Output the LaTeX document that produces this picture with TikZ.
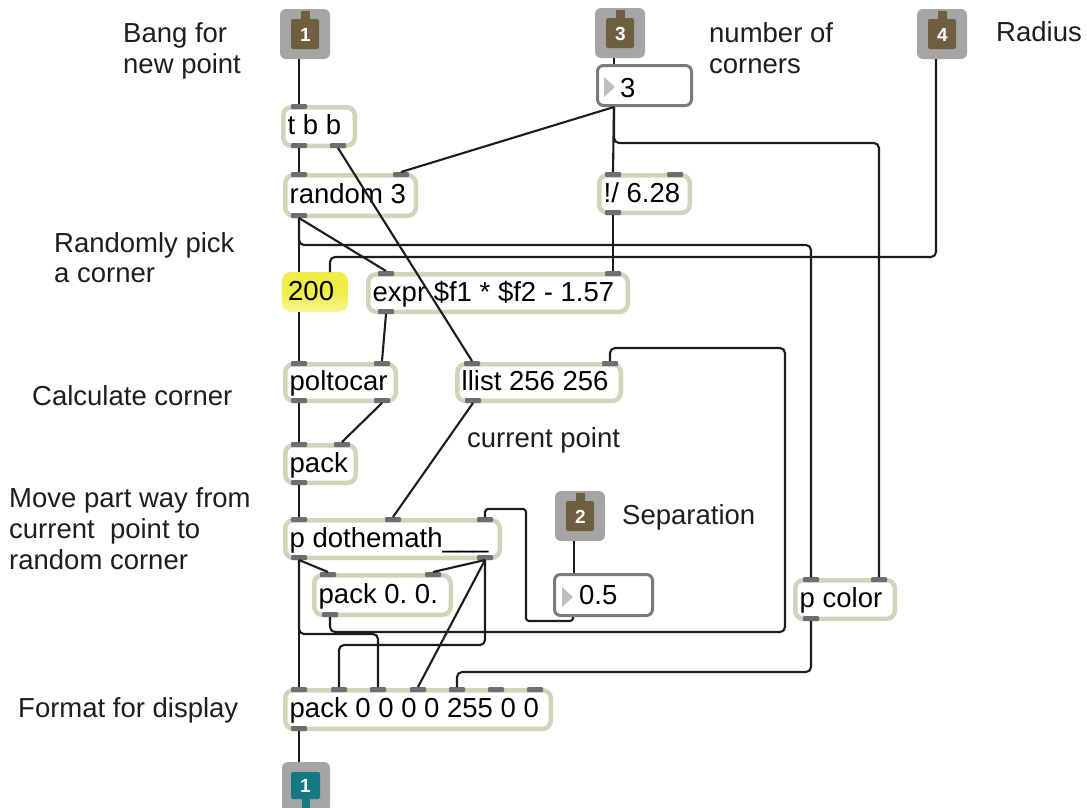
\documentclass[tikz,border=0pt]{standalone}
\usepackage{fontspec}
\setmainfont{Liberation Sans}
\frenchspacing

\definecolor{sage}{RGB}{205,214,186}
\definecolor{porttab}{RGB}{110,110,110}
\definecolor{numedge}{RGB}{122,122,122}
\definecolor{trigray}{RGB}{190,190,190}
\definecolor{inletgray}{RGB}{165,165,165}
\definecolor{inletbrown}{RGB}{112,94,64}
\definecolor{outletteal}{RGB}{22,120,128}
\definecolor{hiyellow}{RGB}{238,238,70}
\definecolor{hiyellowlight}{RGB}{246,246,150}
\definecolor{wirecol}{RGB}{28,28,28}
\definecolor{labelcol}{RGB}{30,30,30}

\tikzset{
  patchfont/.style={font=\fontsize{27.5}{31}\selectfont},
  objframe/.style={draw=sage, line width=4.5pt, rounded corners=8pt, fill=white,
    inner sep=0pt, outer sep=0pt, anchor=north west},
  numframe/.style={draw=numedge, line width=3pt, rounded corners=6pt, fill=white,
    inner sep=0pt, outer sep=0pt, anchor=north west},
  porttab/.style={fill=porttab, minimum width=16pt, minimum height=5pt,
    inner sep=0pt, outer sep=0pt, rounded corners=1pt},
  boxtext/.style={patchfont, anchor=base west, inner sep=0pt, text=black},
  comment/.style={patchfont, anchor=base west, inner sep=0pt, text=labelcol},
  iofont/.style={font=\fontsize{19}{19}\selectfont\bfseries, text=white, inner sep=0pt},
  wire/.style={draw=wirecol, line width=2.1pt, rounded corners=5pt},
}

% object box: name, left, top, right, bottom, text
\newcommand\objbox[6]{%
  \pgfmathsetmacro\bw{#4-#2-4.5}\pgfmathsetmacro\bh{#5-#3-4.5}%
  \node[objframe, minimum width=\bw pt, minimum height=\bh pt] (#1) at ({#2+2.25},{#3+2.25}) {};
  \node[boxtext] (#1-t) at ({#2+6.5},{(#3+#5)/2+8}) {#6};}
% inlet / outlet tabs on a box edge
\newcommand\tabin[3]{\node[porttab] (#1) at (#2,{#3+1.5}) {};}
\newcommand\tabout[3]{\node[porttab] (#1) at (#2,{#3-2.5}) {};}
% patcher inlet: name, left, top, number, colour
\newcommand\patchinlet[5]{%
  \node[fill=inletgray, rounded corners=6pt, minimum width=50pt, minimum height=50pt,
    inner sep=0pt, outer sep=0pt, anchor=north west] (#1) at (#2,#3) {};
  \fill[#5, rounded corners=2pt] ({#2+11},{#3+10}) rectangle ({#2+39},{#3+40});
  \fill[#5] ({#2+21},{#3+1.5}) rectangle ({#2+30},{#3+12});
  \node[iofont] (#1-n) at ({#2+25.5},{#3+26}) {#4};
  \coordinate (#1-o) at ({#2+19},{#3+50});}
% patcher outlet: name, left, top, number, colour
\newcommand\patchoutlet[5]{%
  \node[fill=inletgray, rounded corners=6pt, minimum width=48pt, minimum height=50pt,
    inner sep=0pt, outer sep=0pt, anchor=north west] (#1) at (#2,#3) {};
  \fill[#5, rounded corners=2pt] ({#2+9},{#3+10}) rectangle ({#2+38},{#3+37});
  \fill[#5] ({#2+20},{#3+30}) rectangle ({#2+28},{#3+48.5});
  \node[iofont] (#1-n) at ({#2+23.5},{#3+23.5}) {#4};
  \coordinate (#1-i) at ({#2+17},{#3});}

\begin{document}
\begin{tikzpicture}[x=1pt,y=-1pt]
\useasboundingbox (0,0) rectangle (1087,807);
\fill[white] (0,0) rectangle (1087,807);
\clip (0,0) rectangle (1087,807);

% ---- comments ----
\node[comment] (c-bang1) at (123,42) {Bang for};
\node[comment] (c-bang2) at (123,73) {new point};
\node[comment] (c-num1) at (709,42) {number of};
\node[comment] (c-num2) at (709,73) {corners};
\node[comment] (c-rad) at (996,41) {Radius};
\node[comment] (c-rnd1) at (54,252) {Randomly pick};
\node[comment] (c-rnd2) at (54,282) {a corner};
\node[comment] (c-calc) at (32,405) {Calculate corner};
\node[comment] (c-move1) at (9,507) {Move part way from};
\node[comment] (c-move2) at (9,538) {current~~point to};
\node[comment] (c-move3) at (9,569) {random corner};
\node[comment] (c-fmt) at (18,717) {Format for display};
\node[comment] (c-cur) at (467,447) {current point};
\node[comment] (c-sep) at (622,524) {Separation};

% ---- inlets and outlet ----
\patchinlet{in1}{280}{9}{1}{inletbrown}
\patchinlet{in3}{595}{8}{3}{inletbrown}
\patchinlet{in4}{917}{9}{4}{inletbrown}
\patchinlet{in2}{555}{491}{2}{inletbrown}
\patchoutlet{out1}{282}{762}{1}{outletteal}

% ---- number boxes ----
\node[numframe, minimum width=94pt, minimum height=40pt] (num3) at (597.5,65.5) {};
\fill[trigray] (604,77) -- (604,97) -- (615,87) -- cycle;
\node[boxtext] (num3-t) at (620,97) {3};
\coordinate (num3-i) at (614,64);
\coordinate (num3-o) at (614,107);

\node[numframe, minimum width=98pt, minimum height=41pt] (num05) at (554.5,574.5) {};
\fill[trigray] (562,587) -- (562,607) -- (573,597) -- cycle;
\node[boxtext] (num05-t) at (579,604) {0.5};
\coordinate (num05-i) at (574,573);
\coordinate (num05-o) at (573,617);

% highlighted number box
\node[top color=hiyellow, bottom color=hiyellowlight, middle color=hiyellow,
  rounded corners=9pt, minimum width=66pt, minimum height=40pt,
  inner sep=0pt, outer sep=0pt, anchor=north west] (n200) at (282,272) {};
\node[boxtext] (n200-t) at (288,300) {200};
\coordinate (n200-i) at (299,272);
\coordinate (n200-r) at (330,272);
\coordinate (n200-o) at (299,312);

% ---- object boxes ----
\objbox{tbb}{281}{105}{357}{148}{t b b}
\tabin{tbb-i1}{299}{105} \tabout{tbb-o1}{299}{148} \tabout{tbb-o2}{338}{148}

\objbox{rnd}{283}{173}{418}{218}{random 3}
\tabin{rnd-i1}{299}{173} \tabin{rnd-i2}{401}{173} \tabout{rnd-o1}{299}{218}

\objbox{div}{597}{173}{692}{215}{!/ 6.28}
\tabin{div-i1}{613}{173} \tabin{div-i2}{675}{173} \tabout{div-o1}{613}{215}

\objbox{expr}{366}{272}{630}{314}{expr \$f1 * \$f2 - 1.57}
\tabin{expr-i1}{386}{272} \tabin{expr-i2}{613}{272} \tabout{expr-o1}{386}{314}

\objbox{polt}{283}{362}{398}{403}{poltocar}
\tabin{polt-i1}{299}{362} \tabin{polt-i2}{382}{362}
\tabout{polt-o1}{299}{403} \tabout{polt-o2}{382}{403}

\objbox{llist}{455}{362}{623}{403}{llist 256 256}
\tabin{llist-i1}{472}{362} \tabin{llist-i2}{610}{362} \tabout{llist-o1}{473}{403}

\objbox{pack}{283}{443}{358}{485}{pack}
\tabin{pack-i1}{299}{443} \tabin{pack-i2}{342}{443} \tabout{pack-o1}{299}{485}

\objbox{dm}{283}{518}{502}{560}{p dothemath\_\_\_}
\tabin{dm-i1}{299}{518} \tabin{dm-i2}{393}{518} \tabin{dm-i3}{485}{518}
\tabout{dm-o1}{299}{560} \tabout{dm-o2}{485}{560}

\objbox{pk00}{312}{573}{453}{617}{pack 0. 0.}
\tabin{pk00-i1}{328}{573} \tabin{pk00-i2}{433}{573} \tabout{pk00-o1}{330}{617}

\objbox{pc}{793}{578}{897}{621}{p color}
\tabin{pc-i1}{811}{578} \tabin{pc-i2}{879}{578} \tabout{pc-o1}{811}{621}

\objbox{big}{283}{688}{553}{731}{pack 0 0 0 0 255 0 0}
\tabin{big-i1}{299}{688} \tabin{big-i2}{339}{688} \tabin{big-i3}{378}{688}
\tabin{big-i4}{418}{688} \tabin{big-i5}{457}{688} \tabin{big-i6}{496}{688}
\tabin{big-i7}{535}{688}
\tabout{big-o1}{299}{731}

% ---- patch cords ----
\draw[wire] (in1-o) -- (tbb-i1.north);
\draw[wire] (tbb-o1.south) -- (rnd-i1.north);
\draw[wire] (tbb-o2.south) -- (llist-i1.north);
\draw[wire] (in3-o) -- (num3-i);
\draw[wire] (num3-o) -- (rnd-i2.north);
\draw[wire] (num3-o) -- (div-i1.north);
\draw[wire] (num3-o) -- (num3-o |- 0,143) -- (pc-i2.north |- 0,143) -- (pc-i2.north);
\draw[wire] (rnd-o1.south) -- (expr-i1.north);
\draw[wire] (rnd-o1.south) -- (n200-i);
\draw[wire] (rnd-o1.south) -- (rnd-o1.south |- 0,245) -- (pc-i1.north |- 0,245) -- (pc-i1.north);
\draw[wire] (in4-o) -- (in4-o |- 0,257) -- (n200-r |- 0,257) -- (n200-r);
\draw[wire] (div-o1.south) -- (expr-i2.north);
\draw[wire] (n200-o) -- (polt-i1.north);
\draw[wire] (expr-o1.south) -- (polt-i2.north);
\draw[wire] (polt-o1.south) -- (pack-i1.north);
\draw[wire] (polt-o2.south) -- (pack-i2.north);
\draw[wire] (llist-o1.south) -- (dm-i2.north);
\draw[wire] (pack-o1.south) -- (dm-i1.north);
\draw[wire] (pk00-o1.south) -- (pk00-o1.south |- 0,632) -- (785,632) -- (785,348)
  -- (llist-i2.north |- 0,348) -- (llist-i2.north);
\draw[wire, rounded corners=3pt] (num05-o) -- (num05-o |- 0,621) -- (526,621) -- (526,509)
  -- (dm-i3.north |- 0,509) -- (dm-i3.north);
\draw[wire] (in2-o) -- (num05-i);
\draw[wire] (dm-o1.south) -- (pk00-i1.north);
\draw[wire] (dm-o2.south) -- (pk00-i2.north);
\draw[wire] (dm-o1.south) -- (big-i1.north);
\draw[wire] (dm-o1.south) -- (dm-o1.south |- 0,634) -- (big-i3.north |- 0,634) -- (big-i3.north);
\draw[wire] (dm-o2.south) -- (dm-o2.south |- 0,645) -- (big-i2.north |- 0,645) -- (big-i2.north);
\draw[wire] (dm-o2.south) -- (big-i4.north);
\draw[wire] (pc-o1.south) -- (pc-o1.south |- 0,672) -- (big-i5.north |- 0,672) -- (big-i5.north);
\draw[wire] (big-o1.south) -- (out1-i);
\end{tikzpicture}
\end{document}
